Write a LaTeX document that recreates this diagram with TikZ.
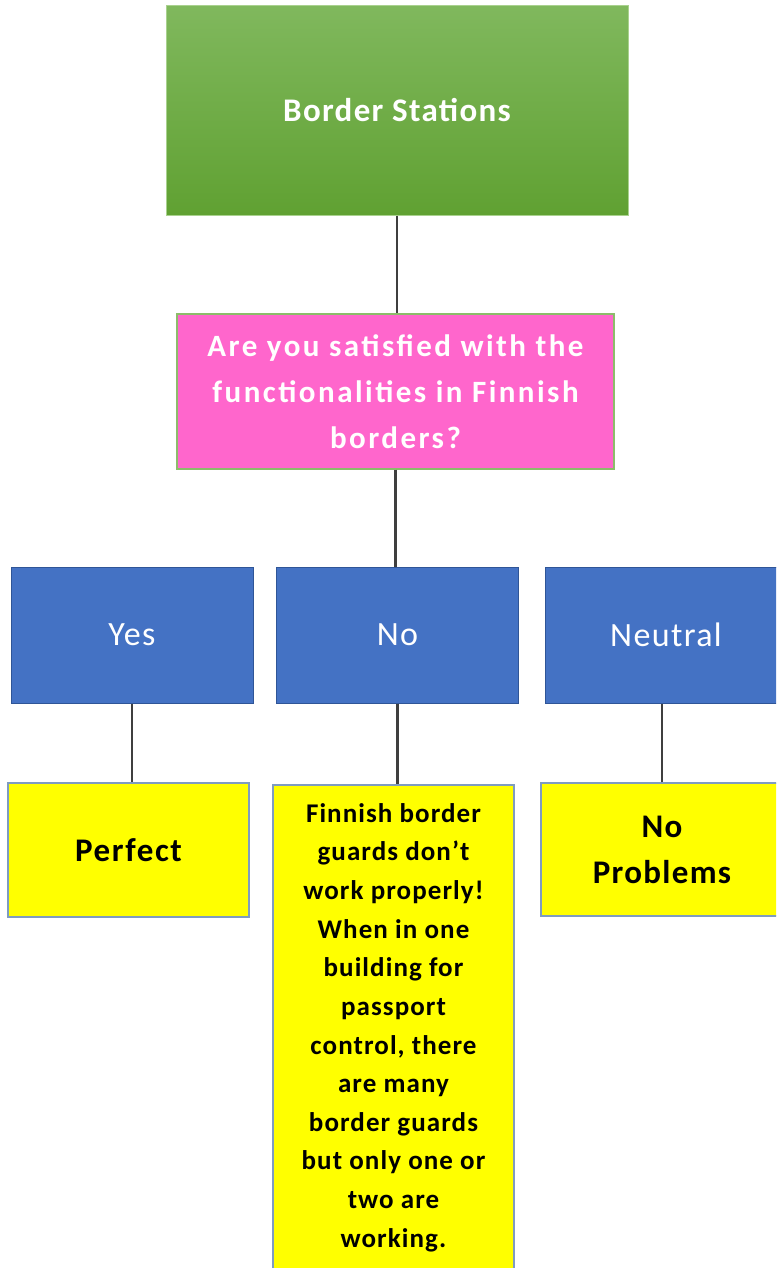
\documentclass[tikz,border=0pt]{standalone}
\usepackage{fontspec}
\setmainfont{Carlito}
\definecolor{gtop}{HTML}{80B85D}
\definecolor{gbot}{HTML}{60A132}
\definecolor{gedge}{HTML}{A9D18E}
\definecolor{pinkfill}{HTML}{FF66CC}
\definecolor{pinkedge}{HTML}{8CBC6A}
\definecolor{bluefill}{HTML}{4472C4}
\definecolor{blueedge}{HTML}{2F5597}
\definecolor{yelfill}{HTML}{FFFF00}
\definecolor{yeledge}{HTML}{7F9CC0}
\definecolor{linec}{HTML}{3F3F3F}
\begin{document}
\begin{tikzpicture}[x=1pt,y=-1pt,
  box/.style={rectangle, inner sep=0pt, align=center},
  greenbox/.style={box, draw=gedge, line width=1pt, top color=gtop, bottom color=gbot, text=white,
    font=\fontsize{33}{40}\selectfont\bfseries\addfontfeature{LetterSpace=4}},
  pinkbox/.style={box, draw=pinkedge, line width=1.2pt, fill=pinkfill, text=white,
    font=\fontsize{31}{46}\selectfont\bfseries\addfontfeature{LetterSpace=8}},
  bluebox/.style={box, draw=blueedge, line width=1pt, fill=bluefill, text=white,
    minimum width=242pt, minimum height=136pt, font=\fontsize{34}{40}\selectfont\addfontfeature{LetterSpace=4}},
  yelbox/.style={box, draw=yeledge, line width=1.2pt, fill=yelfill, text=black},
  conn/.style={draw=linec, line width=2.2pt}
]
\useasboundingbox (0,0) rectangle (776,1268);
\clip (0,0) rectangle (776,1268);

\node[greenbox, minimum width=462pt, minimum height=209pt] (top) at (397,110.5) {Border Stations};
\node[pinkbox, minimum width=437pt, minimum height=155pt] (pink) at (395.5,391.5)
  {Are you satisfied with the\\functionalities in Finnish\\borders?};

\node[bluebox] (yes) at (132,635) {Yes};
\node[bluebox] (no) at (397.5,635) {No};
\node[bluebox] (neutral) at (666,635) {Neutral};

\node[yelbox, minimum width=241pt, minimum height=134pt, font=\fontsize{33}{40}\selectfont\bfseries\addfontfeature{LetterSpace=5}]
  (perfect) at (128.5,850) {Perfect};
\node[yelbox, minimum width=241pt, minimum height=485pt, font=\fontsize{27}{38.6}\selectfont\bfseries\addfontfeature{LetterSpace=4}]
  (guards) at (393.5,1027.5)
  {Finnish border\\guards don’t\\work properly!\\When in one\\building for\\passport\\control, there\\are many\\border guards\\but only one or\\two are\\working.};
\node[yelbox, minimum width=242pt, minimum height=133pt, font=\fontsize{33}{46}\selectfont\bfseries\addfontfeature{LetterSpace=4}]
  (noprob) at (662,849.5) {No\\Problems};

\draw[conn] (top.south) -- (top.south |- pink.north);
\draw[conn] (pink.south) -- (pink.south |- no.north);
\draw[conn] (yes.south) -- (yes.south |- perfect.north);
\draw[conn] (no.south) -- (no.south |- guards.north);
\draw[conn] (noprob.north) -- (noprob.north |- neutral.south);
\end{tikzpicture}
\end{document}
